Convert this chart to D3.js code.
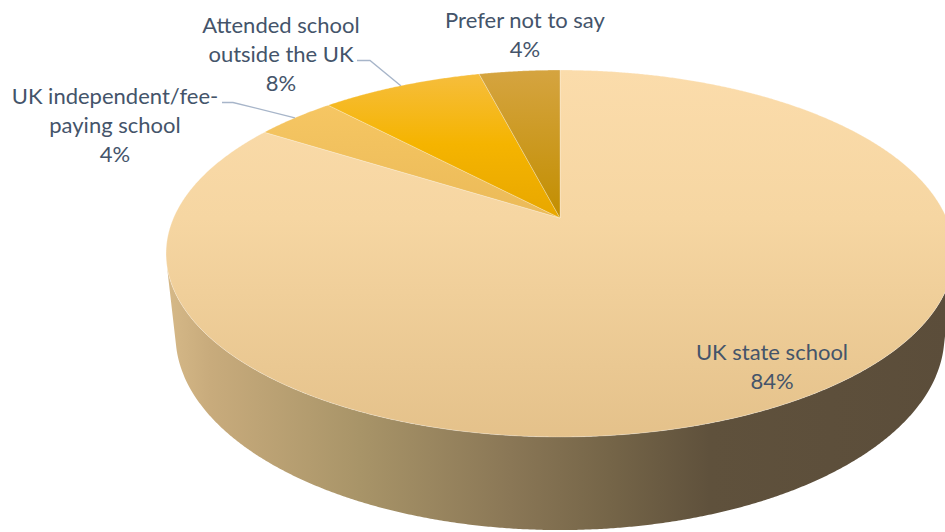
<!DOCTYPE html>
<html>
<head>
<meta charset="utf-8">
<script src="https://cdn.jsdelivr.net/npm/d3@7"></script>
<style>
  html, body { margin: 0; padding: 0; background: #ffffff; }
  svg { display: block; }
</style>
</head>
<body>
<svg id="chart" width="945" height="532"></svg>
<script>
// ---- data ----
const categories = [
  "UK state school",
  "UK independent/fee-paying school",
  "Attended school outside the UK",
  "Prefer not to say"
];
const values = [84, 4, 8, 4];
// wrapped category text as shown in the data labels
const labelLines = [
  ["UK state school"],
  ["UK independent/fee-", "paying school"],
  ["Attended school", "outside the UK"],
  ["Prefer not to say"]
];

// ---- styling ----
const topColors = [
  [[0, "#fbdcab"], [0.4, "#f6d6a2"], [1, "#e4c18a"]],
  [[0, "#f9ca66"], [0.4, "#ebba58"]],
  [[0, "#f6be40"], [0.2, "#f5b400"], [0.4, "#e8a700"]],
  [[0, "#d5a440"], [0.4, "#c28e00"]]
];
const sideColors = [
  [0, "#d6b988"], [0.056, "#c8ab7c"], [0.246, "#a89468"], [0.437, "#8a7756"],
  [0.563, "#756548"], [0.69, "#5f513c"], [1, "#5b4d3a"]
];
const textColor = "#44546a";
const leaderColor = "#a7b5c9";

// label layout: centre x, first baseline, optional leader elbow
const labelLayout = [
  { x: 772, y: 360 },
  { x: 115, y: 104, leader: { x0: 222, x1: 233 } },
  { x: 281, y: 33, leaderLine: 1, leader: { x0: 357, x1: 370 } },
  { x: 525, y: 28 }
];
const lineStep = 29;

// ---- 3D perspective projection of the pie ----
const svg = d3.select("#chart");
const cx = 560, cy = 218;             // projected pie centre
const sinP = 0.4569, cosP = Math.sqrt(1 - sinP * sinP); // camera pitch
const D = 4.597;                      // camera distance (in radii)
const F = 1776.8;                     // focal scale
const thick = 0.24;                   // pie thickness (in radii)

function project(angle, r, y) {
  const u = r * Math.sin(angle), v = -r * Math.cos(angle);
  const d = D - y * sinP - v * cosP;
  return [cx + F * u / d, cy - F * (y * cosP - v * sinP) / d];
}
function arcPoints(a0, a1, y) {
  const n = Math.max(2, Math.ceil((a1 - a0) / 0.005));
  return d3.range(n + 1).map(i => project(a0 + (a1 - a0) * i / n, 1, y));
}

const pie = d3.pie().sort(null).value(d => d);
const arcs = pie(values);

// ---- gradients ----
const defs = svg.append("defs");
const sideGrad = defs.append("linearGradient")
  .attr("id", "side-grad").attr("gradientUnits", "userSpaceOnUse")
  .attr("x1", 166).attr("x2", 954).attr("y1", 0).attr("y2", 0);
sideGrad.selectAll("stop").data(sideColors).join("stop")
  .attr("offset", d => d[0]).attr("stop-color", d => d[1]);

topColors.forEach((stops, i) => {
  const g = defs.append("linearGradient")
    .attr("id", "top-grad-" + i).attr("gradientUnits", "userSpaceOnUse")
    .attr("x1", 0).attr("x2", 0).attr("y1", 70).attr("y2", 440);
  g.selectAll("stop").data(stops).join("stop")
    .attr("offset", d => d[0]).attr("stop-color", d => d[1]);
});

const line = d3.line();

// ---- outer side wall (visible front part only) ----
const vis = Math.acos(-1 / (D * cosP));
const visLo = vis, visHi = 2 * Math.PI - vis;
const sideG = svg.append("g");
arcs.forEach((a, i) => {
  const s = Math.max(a.startAngle, visLo), e = Math.min(a.endAngle, visHi);
  if (e <= s) return;
  const pts = arcPoints(s, e, 0).concat(arcPoints(s, e, -thick).reverse());
  sideG.append("path")
    .attr("d", line(pts) + "Z")
    .attr("fill", "url(#side-grad)");
});

// ---- top faces ----
const centre = project(0, 0, 0);
svg.append("g").selectAll("path").data(arcs).join("path")
  .attr("d", a => line([centre].concat(arcPoints(a.startAngle, a.endAngle, 0))) + "Z")
  .attr("fill", (a, i) => "url(#top-grad-" + i + ")")
  .attr("stroke", "rgba(255,255,255,0.35)")
  .attr("stroke-width", 0.75)
  .attr("stroke-linejoin", "round");

// ---- leader lines ----
const leaderG = svg.append("g");
arcs.forEach((a, i) => {
  const L = labelLayout[i];
  if (!L.leader) return;
  const mid = (a.startAngle + a.endAngle) / 2;
  const end = project(mid, 1, 0);
  const ly = L.y + (L.leaderLine || 0) * lineStep - 1.5;
  leaderG.append("path")
    .attr("d", line([[L.leader.x0, ly], [L.leader.x1, ly], end]))
    .attr("fill", "none")
    .attr("stroke", leaderColor)
    .attr("stroke-width", 1.3);
});

// ---- data labels ----
const labelG = svg.append("g")
  .attr("font-family", "Lato, 'Open Sans', sans-serif")
  .attr("font-size", 22)
  .attr("fill", textColor)
  .attr("text-anchor", "middle");
arcs.forEach((a, i) => {
  const L = labelLayout[i];
  const rows = labelLines[i].concat([values[i] + "%"]);
  const t = labelG.append("text").attr("x", L.x).attr("y", L.y);
  rows.forEach((r, k) => {
    t.append("tspan").attr("x", L.x).attr("y", L.y + k * lineStep).text(r);
  });
});
</script>
</body>
</html>
